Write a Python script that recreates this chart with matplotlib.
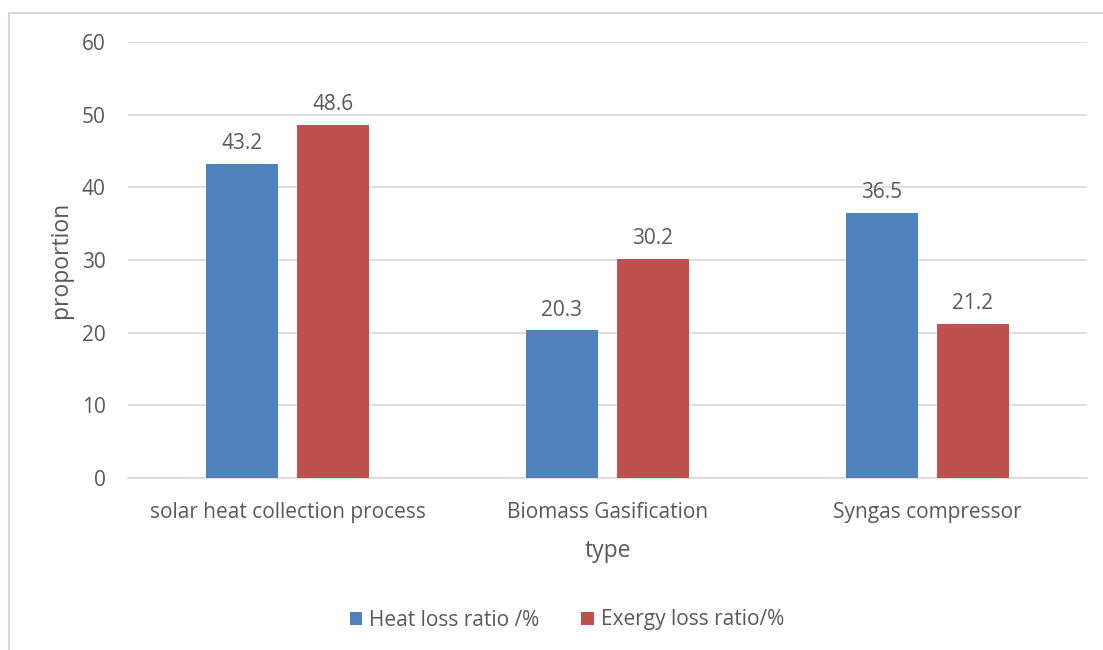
import numpy as np
import matplotlib.pyplot as plt
from matplotlib.patches import Rectangle

categories = ['solar heat collection process', 'Biomass Gasification', 'Syngas compressor']
heat_loss = [43.2, 20.3, 36.5]
exergy_loss = [48.6, 30.2, 21.2]
series_names = ['Heat loss ratio /%', 'Exergy loss ratio/%']

plt.rcParams['font.family'] = ['Open Sans', 'DejaVu Sans']
text_color = '#595959'
blue = '#4F81BD'
red = '#C0504D'

fig = plt.figure(figsize=(11.03, 6.5), dpi=100)
ax = fig.add_axes([128 / 1103, 1 - 478 / 650, (1087 - 128) / 1103, (478 - 42) / 650])

# outer chart frame
fig.patches.append(Rectangle((8.5 / 1103, -0.1), 1.2, 1 - 12.5 / 650 + 0.1,
                             transform=fig.transFigure, fill=False,
                             edgecolor='#D9D9D9', linewidth=1.5))

x = np.arange(len(categories))
w = 0.225
off = 0.1425
b1 = ax.bar(x - off, heat_loss, w, color=blue, label=series_names[0], zorder=3)
b2 = ax.bar(x + off, exergy_loss, w, color=red, label=series_names[1], zorder=3)

for bars, vals in ((b1, heat_loss), (b2, exergy_loss)):
    for b, v in zip(bars, vals):
        ax.annotate(f'{v}', (b.get_x() + b.get_width() / 2, v), xytext=(0, 7),
                    textcoords='offset points', ha='center', va='bottom',
                    fontsize=15, color=text_color)

ax.set_xlim(-0.5, 2.5)
ax.set_ylim(0, 60)
ax.set_yticks(np.arange(0, 61, 10))
ax.set_xticks(x)
ax.set_xticklabels(categories)
ax.grid(axis='y', color='#D9D9D9', linewidth=1.2, zorder=0)
for s in ['top', 'right', 'left']:
    ax.spines[s].set_visible(False)
ax.spines['bottom'].set_color('#D9D9D9')
ax.spines['bottom'].set_linewidth(1.2)
ax.tick_params(length=0, labelsize=15, colors=text_color)
ax.tick_params(axis='x', pad=17)
ax.tick_params(axis='y', pad=16)

ax.set_xlabel('type', fontsize=16.5, color=text_color, labelpad=12)
ax.set_ylabel('proportion', fontsize=16.5, color=text_color)
ax.yaxis.set_label_coords(-0.0574, 0.5)

fig.legend(handles=[b1, b2], loc='center', bbox_to_anchor=(567 / 1103, 1 - 620 / 650),
           ncol=2, frameon=False, fontsize=15, labelcolor=text_color,
           handlelength=0.6, handleheight=0.6, handletextpad=0.35, columnspacing=2.0)

plt.savefig('out.png', dpi=100)
